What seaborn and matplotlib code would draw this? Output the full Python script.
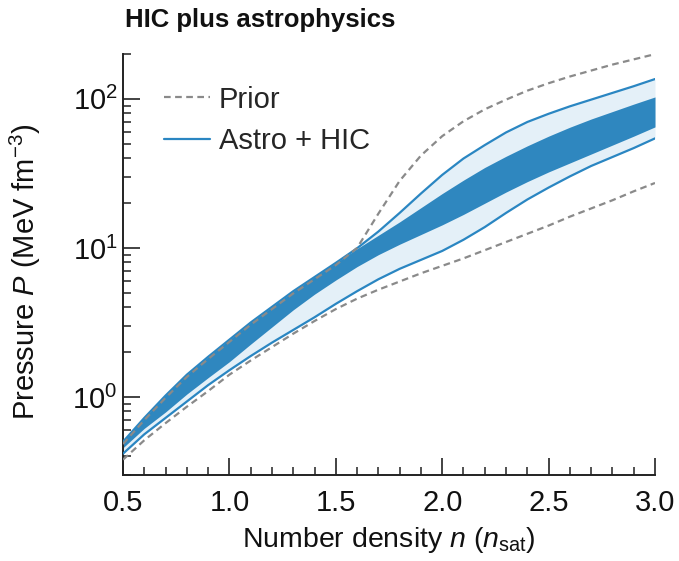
import numpy as np
import pandas as pd
import matplotlib
matplotlib.use("Agg")
import matplotlib.pyplot as plt
import seaborn as sns
from matplotlib.ticker import MultipleLocator, FormatStrFormatter, LogLocator, NullFormatter
from matplotlib.lines import Line2D

# ---------------- data ----------------
density = [0.5, 0.6, 0.7, 0.8, 0.9, 1.0, 1.1, 1.2, 1.3, 1.4, 1.5, 1.6, 1.7,
           1.8, 1.9, 2.0, 2.1, 2.2, 2.3, 2.4, 2.5, 2.6, 2.7, 2.8, 2.9, 3.0]

# log10 of pressure (MeV fm^-3)
inner_upper_log = [-0.30, -0.14, 0.01, 0.15, 0.27, 0.385, 0.50, 0.605, 0.71, 0.805, 0.90, 0.995, 1.085,
                   1.175, 1.27, 1.365, 1.455, 1.54, 1.615, 1.685, 1.75, 1.81, 1.865, 1.915, 1.965, 2.013]
inner_lower_log = [-0.34, -0.21, -0.10, 0.02, 0.13, 0.237, 0.355, 0.47, 0.585, 0.69, 0.785, 0.875, 0.955,
                   1.025, 1.09, 1.155, 1.225, 1.30, 1.375, 1.445, 1.51, 1.57, 1.63, 1.69, 1.75, 1.812]
outer_upper_log = [-0.30, -0.14, 0.01, 0.15, 0.27, 0.385, 0.50, 0.605, 0.71, 0.805, 0.90, 0.998, 1.11,
                   1.235, 1.365, 1.49, 1.60, 1.69, 1.775, 1.845, 1.90, 1.95, 1.995, 2.04, 2.085, 2.133]
outer_lower_log = [-0.38, -0.25, -0.14, -0.03, 0.08, 0.18, 0.275, 0.365, 0.45, 0.535, 0.625, 0.71, 0.79,
                   0.86, 0.92, 0.98, 1.055, 1.14, 1.235, 1.325, 1.405, 1.48, 1.55, 1.61, 1.67, 1.735]
prior_upper_log = [-0.315, -0.155, -0.005, 0.135, 0.255, 0.37, 0.485, 0.59, 0.695, 0.79, 0.885, 1.0, 1.23,
                   1.45, 1.62, 1.75, 1.85, 1.93, 1.995, 2.055, 2.105, 2.15, 2.19, 2.23, 2.265, 2.30]
prior_lower_log = [-0.42, -0.29, -0.175, -0.065, 0.04, 0.15, 0.245, 0.335, 0.425, 0.51, 0.59, 0.66, 0.72,
                   0.775, 0.83, 0.88, 0.93, 0.985, 1.04, 1.095, 1.15, 1.21, 1.265, 1.32, 1.38, 1.436]

legend_labels = ["Prior", "Astro + HIC"]
x_ticks = [0.5, 1.0, 1.5, 2.0, 2.5, 3.0]

# ---------------- style ----------------
sns.set_theme(style="ticks")
plt.rcParams['font.family'] = ['Liberation Sans', 'DejaVu Sans']
plt.rcParams['mathtext.fontset'] = 'custom'
plt.rcParams['mathtext.rm'] = 'Liberation Sans'
plt.rcParams['mathtext.it'] = 'Liberation Sans:italic'
plt.rcParams['mathtext.bf'] = 'Liberation Sans:bold'

DARK = "#2f87bf"
LIGHT = "#e4f0f8"
BLUE = "#2a86c2"
GREY = "#8a8a8a"
FS = 21

df = pd.DataFrame({
    "n": density,
    "inner_hi": 10 ** np.array(inner_upper_log),
    "inner_lo": 10 ** np.array(inner_lower_log),
    "outer_hi": 10 ** np.array(outer_upper_log),
    "outer_lo": 10 ** np.array(outer_lower_log),
    "prior_hi": 10 ** np.array(prior_upper_log),
    "prior_lo": 10 ** np.array(prior_lower_log),
})

W, H = 679, 561
fig = plt.figure(figsize=(W / 100, H / 100), dpi=100)
ax = fig.add_axes([123 / W, 1 - 475 / H, (655 - 123) / W, (475 - 54) / H])
ax.set_yscale("log")

ax.fill_between(df["n"], df["outer_lo"], df["outer_hi"], color=LIGHT, lw=0, zorder=1)
ax.fill_between(df["n"], df["inner_lo"], df["inner_hi"], color=DARK, lw=0, zorder=2)

sns.lineplot(data=df, x="n", y="outer_hi", ax=ax, color=BLUE, lw=1.6, zorder=3)
sns.lineplot(data=df, x="n", y="outer_lo", ax=ax, color=BLUE, lw=1.6, zorder=3)
sns.lineplot(data=df, x="n", y="prior_hi", ax=ax, color=GREY, lw=1.6, dashes=False,
             linestyle=(0, (3, 2)), zorder=4)
sns.lineplot(data=df, x="n", y="prior_lo", ax=ax, color=GREY, lw=1.6, dashes=False,
             linestyle=(0, (3, 2)), zorder=4)

ax.set_xlim(0.5, 3.0)
ax.set_ylim(0.3, 200)
ax.set_xticks(x_ticks)
ax.xaxis.set_major_formatter(FormatStrFormatter("%.1f"))
ax.xaxis.set_minor_locator(MultipleLocator(0.1))
ax.yaxis.set_major_locator(LogLocator(base=10))
ax.yaxis.set_minor_locator(LogLocator(base=10, subs=np.arange(2, 10)))
ax.yaxis.set_minor_formatter(NullFormatter())

for s in ["top", "right"]:
    ax.spines[s].set_visible(False)
for s in ["left", "bottom"]:
    ax.spines[s].set_linewidth(1.4)
    ax.spines[s].set_color("#222222")

ax.tick_params(which="major", direction="in", length=12.5, width=1.2, labelsize=FS,
               color="#222222", labelcolor="#111111")
ax.tick_params(which="minor", direction="in", length=6, width=1.1, color="#222222")
ax.tick_params(axis="x", which="major", pad=10)
ax.tick_params(axis="y", which="major", pad=4)

ax.set_xlabel("Number density $n$ ($n_{\\mathrm{sat}}$)", fontsize=20.5, color="#111111", labelpad=6)
ax.set_ylabel("Pressure $P$ (MeV fm$^{-3}$)", fontsize=FS, color="#111111")
ax.yaxis.set_label_coords(-0.150, 0.482)

handles = [Line2D([], [], color=GREY, lw=1.6, linestyle=(0, (3, 2))),
           Line2D([], [], color=BLUE, lw=1.6)]
ax.legend(handles, legend_labels, loc="upper left", bbox_to_anchor=(0.078, 0.925),
          frameon=False, fontsize=FS, handlelength=1.55, handletextpad=0.32,
          labelspacing=0.47, borderpad=0, borderaxespad=0)

fig.text(125 / W, 1 - 20 / H, "HIC plus astrophysics", fontsize=18.5, fontweight="bold",
         ha="left", va="center", color="#111111")

fig.savefig("out.png", dpi=100)
